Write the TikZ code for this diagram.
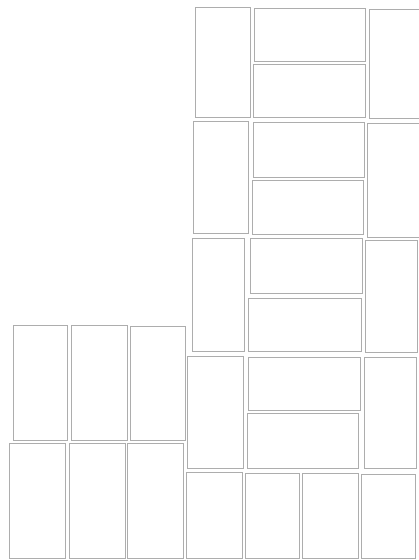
\documentclass[tikz,border=0pt]{standalone}
\begin{document}
\begin{tikzpicture}[x=1pt,y=-1pt,
  panel/.style={draw=black!32,line width=0.9pt}]
\useasboundingbox (0,0) rectangle (419,560);
% right block, row 1
\draw[panel] (195,7) rectangle (250,117);
\draw[panel] (254,8) rectangle (365,61);
\draw[panel] (253,64) rectangle (365,117);
\draw[panel] (421,9) -- (369,9) -- (369,118) -- (421,118);
% row 2
\draw[panel] (193,121) rectangle (248,233);
\draw[panel] (253,122) rectangle (364,177);
\draw[panel] (252,180) rectangle (363,234);
\draw[panel] (421,123) -- (367,123) -- (367,237) -- (421,237);
% row 3
\draw[panel] (192,238) rectangle (244,351);
\draw[panel] (250,238) rectangle (362,293);
\draw[panel] (248,298) rectangle (361,351);
\draw[panel] (365,240) rectangle (417,352);
% row 4
\draw[panel] (187,356) rectangle (243,468);
\draw[panel] (248,357) rectangle (360,410);
\draw[panel] (247,413) rectangle (358,468);
\draw[panel] (364,357) rectangle (416,468);
% row 5
\draw[panel] (186,472) rectangle (242,558);
\draw[panel] (245,473) rectangle (299,558);
\draw[panel] (302,473) rectangle (358,558);
\draw[panel] (361,474) rectangle (415,558);
% left block
\draw[panel] (13,325) rectangle (67,440);
\draw[panel] (71,325) rectangle (127,440);
\draw[panel] (130,326) rectangle (185,440);
\draw[panel] (9,443) rectangle (65,558);
\draw[panel] (69,443) rectangle (125,558);
\draw[panel] (127,443) rectangle (183,558);
\end{tikzpicture}
\end{document}
